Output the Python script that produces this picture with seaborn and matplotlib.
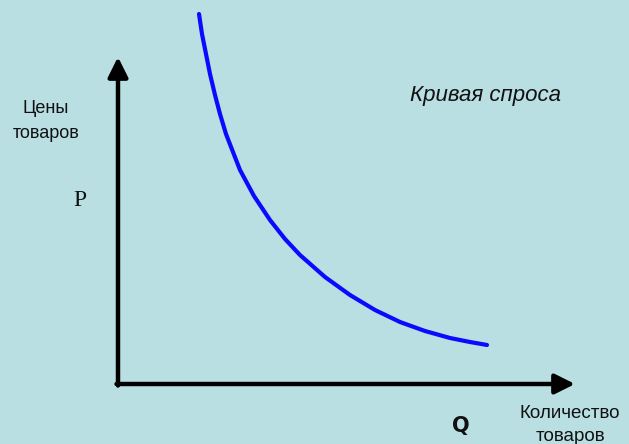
import numpy as np
import pandas as pd
import matplotlib.pyplot as plt
import seaborn as sns

sns.set_theme(style="white")
plt.rcParams["font.family"] = ["Liberation Sans", "DejaVu Sans"]

BG = "#b9dfe3"

# demand curve (quantity, price), origin at the axes corner
QUANTITY = [81, 84, 88, 92, 97, 102, 108, 115, 122, 136, 152, 167, 182, 207, 232, 257, 282, 307, 332, 352, 369]
PRICE = [370, 350, 330, 310, 289, 270, 250, 232, 214, 188, 164, 145, 129, 107, 89, 74, 62, 53, 46, 42, 39]

Y_ARROW_TOP = 326
X_ARROW_END = 455

curve = pd.DataFrame({"Q": QUANTITY, "P": PRICE})

fig = plt.figure(figsize=(6.29, 4.44), dpi=100, facecolor=BG)
ax = fig.add_axes([0, 0, 1, 1], facecolor=BG)
ax.set_xlim(-118, 511)
ax.set_ylim(-60, 384)
ax.axis("off")

sns.lineplot(data=curve, x="Q", y="P", ax=ax, color="#0a0aff", lw=3,
             sort=False, estimator=None)

arrow = dict(arrowstyle="-|>", color="black", lw=3.2, mutation_scale=30,
             shrinkA=0, shrinkB=0)
ax.annotate("", xy=(0, Y_ARROW_TOP + 1), xytext=(0, -1.5), arrowprops=arrow)
ax.annotate("", xy=(X_ARROW_END + 2, 0), xytext=(-1.5, 0), arrowprops=arrow)

ax.text(-72, 263, "Цены\nтоваров", ha="center", va="center", fontsize=13,
        linespacing=1.55, color="#111111")
ax.text(-38, 184, "P", ha="center", va="center", fontsize=17,
        family="Liberation Serif", color="#111111")
ax.text(368, 289, "Кривая спроса", ha="center", va="center", fontsize=16,
        style="italic", color="#111111")
ax.text(343, -42, "Q", ha="center", va="center", fontsize=15,
        fontweight="bold", family="DejaVu Sans", color="#111111")
ax.text(452, -41, "Количество\nтоваров", ha="center", va="center", fontsize=13.5,
        linespacing=1.5, color="#111111")

fig.savefig("out.png", dpi=100, facecolor=BG)
